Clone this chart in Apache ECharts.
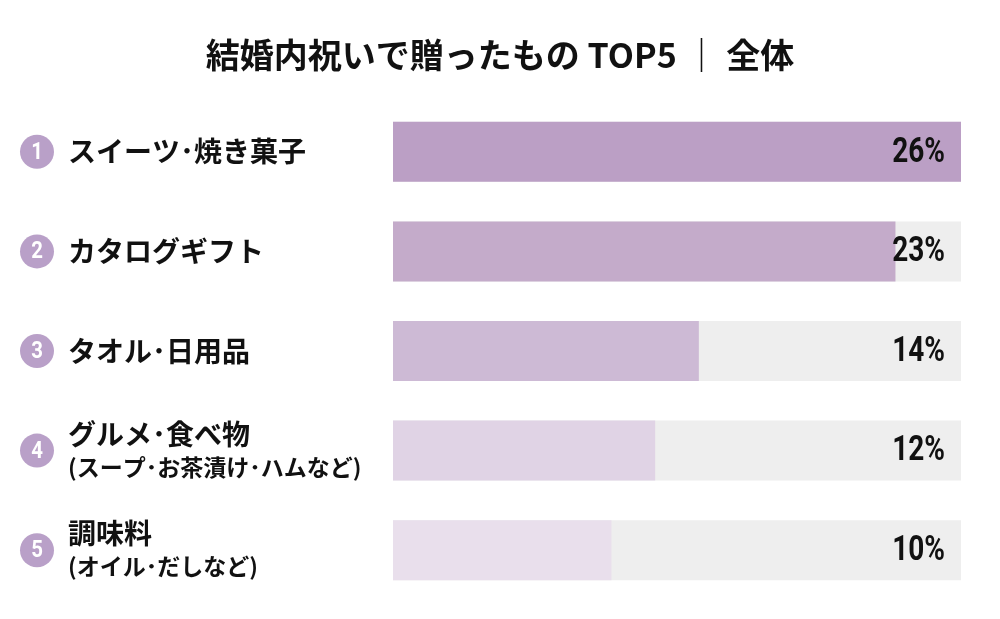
<!DOCTYPE html>
<html>
<head>
<meta charset="utf-8">
<script src="https://cdn.jsdelivr.net/npm/echarts@6/dist/echarts.min.js"></script>
<style>
  html, body { margin: 0; padding: 0; background: #fff; }
  #chart { width: 1000px; height: 619px; }
</style>
</head>
<body>
<div id="chart"></div>
<script>
// データ
const titleText = '結婚内祝いで贈ったもの TOP5 ｜ 全体';
const ranks = ['1', '2', '3', '4', '5'];
const categories = [
  'スイーツ･焼き菓子',
  'カタログギフト',
  'タオル･日用品',
  'グルメ･食べ物\n(スープ･お茶漬け･ハムなど)',
  '調味料\n(オイル･だしなど)'
];
const values = [26, 23, 14, 12, 10];
const axisMax = 26;

// 色
const barColors = ['#bb9fc5', '#c4abca', '#cdbad5', '#e0d3e5', '#e9dfec'];
const jp = '"Noto Sans CJK JP", sans-serif';

const chart = echarts.init(document.getElementById('chart'));

const option = {
  backgroundColor: '#ffffff',
  animation: false,
  title: {
    text: titleText,
    left: 'center',
    top: 33,
    textStyle: { fontFamily: jp, fontSize: 34, fontWeight: 'bold', color: '#111' }
  },
  grid: { left: 393, right: 39, top: 102, bottom: 19 },
  xAxis: {
    type: 'value', min: 0, max: axisMax, show: false
  },
  yAxis: {
    type: 'category', inverse: true, data: categories,
    axisLine: { show: false }, axisTick: { show: false },
    axisLabel: {
      align: 'left', margin: 325,
      formatter: v => {
        const parts = v.split('\n');
        let s = '{a|' + parts[0] + '}';
        if (parts[1]) s += '\n{b|' + parts[1] + '}';
        return s;
      },
      rich: {
        a: { fontFamily: jp, fontSize: 28, fontWeight: 'bold', color: '#111', lineHeight: 33 },
        b: { fontFamily: jp, fontSize: 23, fontWeight: 'bold', color: '#111', lineHeight: 33 }
      }
    }
  },
  series: [
    {
      type: 'bar', barWidth: 60,
      data: values.map((v, i) => ({ value: v, itemStyle: { color: barColors[i] } })),
      showBackground: true,
      backgroundStyle: { color: '#eeeeee' }
    },
    {
      // 順位の丸と右端のパーセント表示
      type: 'custom', z: 5, silent: true, clip: false,
      data: values.map((v, i) => [axisMax, i, v]),
      renderItem: (params, api) => {
        const idx = api.value(1);
        const p = api.coord([api.value(0), idx]);
        const left = api.coord([0, idx]);
        const cx = left[0] - 356;
        return {
          type: 'group',
          children: [
            {
              type: 'circle',
              shape: { cx: cx, cy: p[1], r: 17 },
              style: { fill: '#b9a0c8' }
            },
            {
              type: 'text',
              x: cx, y: p[1] + 1,
              scaleX: 0.85,
              style: {
                text: ranks[idx], x: 0, y: 0,
                align: 'center', verticalAlign: 'middle',
                font: 'bold 24px Roboto, sans-serif',
                fill: '#fff'
              }
            },
            {
              type: 'text',
              x: p[0] - 16, y: p[1] + 1,
              scaleX: 0.8,
              style: {
                text: api.value(2) + '%',
                x: 0, y: 0,
                align: 'right', verticalAlign: 'middle',
                font: 'bold 35px Roboto, sans-serif',
                fill: '#111'
              }
            }
          ]
        };
      }
    }
  ]
};

chart.setOption(option);
</script>
</body>
</html>
